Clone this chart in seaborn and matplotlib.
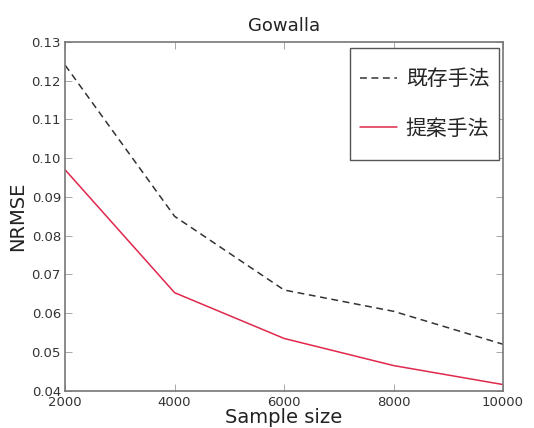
import matplotlib
matplotlib.use("Agg")
import matplotlib.pyplot as plt
from matplotlib.patches import Rectangle
import seaborn as sns
import pandas as pd

# NRMSE vs sample size on Gowalla
sample_sizes = [2000, 4000, 6000, 8000, 10000]
existing_nrmse = [0.124, 0.085, 0.066, 0.0605, 0.052]
proposed_nrmse = [0.097, 0.0653, 0.0535, 0.0465, 0.0416]
method_names = ["既存手法", "提案手法"]

sns.set_style("white")
plt.rcParams["font.family"] = ["DejaVu Sans", "Noto Sans CJK JP"]

df = pd.DataFrame({
	"Sample size": sample_sizes * 2,
	"NRMSE": existing_nrmse + proposed_nrmse,
	"method": [method_names[0]] * 5 + [method_names[1]] * 5,
})

fig, ax = plt.subplots(figsize = (5.34, 4.28), dpi = 100)
plt.subplots_adjust(left = 0.122, right = 0.942, bottom = 0.087, top = 0.902)

sns.lineplot(data = df, x = "Sample size", y = "NRMSE", hue = "method",
	style = "method", palette = ["#333333", "#e0284c"],
	dashes = [(4.5, 3), ""], linewidth = 1.1, ax = ax)

ax.set_xlim(2000, 10000)
ax.set_ylim(0.04, 0.13)
ax.set_xticks(sample_sizes)
ax.set_yticks([0.04, 0.05, 0.06, 0.07, 0.08, 0.09, 0.10, 0.11, 0.12, 0.13])
ax.set_yticklabels(["0.04", "0.05", "0.06", "0.07", "0.08", "0.09", "0.10",
	"0.11", "0.12", "0.13"])

ax.tick_params(direction = "in", length = 5, width = 0.6, colors = "#999999",
	labelcolor = "#333333", labelsize = 9.5, top = True, right = True,
	bottom = True, left = True, pad = 3)
ax.tick_params(axis = "x", pad = 4)
for spine in ax.spines.values():
	spine.set_color("#777777")
	spine.set_linewidth(1.2)

ax.set_xlabel("Sample size", fontsize = 14, labelpad = -1, color = "#222222")
ax.set_ylabel("NRMSE", fontsize = 14, labelpad = 3, color = "#222222")
ax.set_title("Gowalla", fontsize = 13, pad = 8, color = "#222222")

# legend box is taller than matplotlib's padding gives, so draw frame by hand
ax.add_patch(Rectangle((0.651, 0.662), 0.340, 0.321, transform = ax.transAxes,
	facecolor = "white", edgecolor = "#555555", linewidth = 1.0, zorder = 4))
leg = ax.legend(loc = "center", bbox_to_anchor = (0.821, 0.822),
	frameon = False, handlelength = 1.8, handletextpad = 0.4,
	borderpad = 0.3, labelspacing = 1.3,
	prop = {"family": ["Noto Sans CJK JP"], "size": 15})
leg.set_zorder(5)

fig.savefig("out.png", dpi = 100)
